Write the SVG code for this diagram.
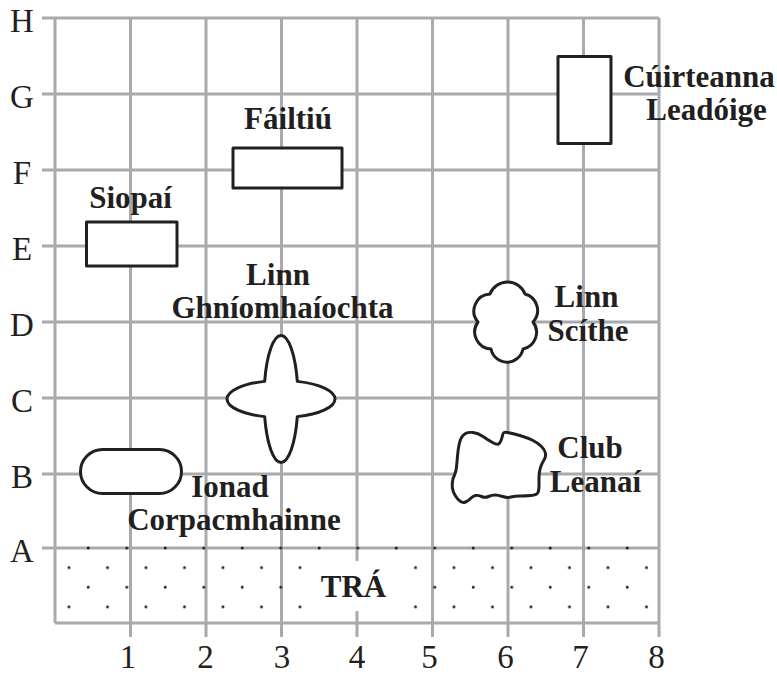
<svg xmlns="http://www.w3.org/2000/svg" width="777" height="675" viewBox="0 0 777 675">
<defs>
<style>
.grid{stroke:#a8aaad;stroke-width:3;fill:none}
.shape{fill:#fff;stroke:#231f20;stroke-width:3;stroke-linejoin:round}
.lbl{font-family:"Liberation Serif","Times New Roman",serif;font-weight:bold;font-size:31px;fill:#231f20;text-anchor:middle}
.axis{font-family:"Liberation Serif","Times New Roman",serif;font-size:33px;fill:#231f20;text-anchor:middle}
</style>
<pattern id="sand" patternUnits="userSpaceOnUse" x="59.375" y="538.2" width="38.5" height="39.2">
<circle cx="28.875" cy="9.8" r="1.5" fill="#231f20"/>
<circle cx="9.625" cy="29.4" r="1.5" fill="#231f20"/>
</pattern>
</defs>
<rect width="777" height="675" fill="#fff"/>
<g id="grid" class="grid">
<path d="M42 18H659M42 94H659M42 170H659M42 246H659M42 322H659M42 398H659M42 474H659M42 548H659M55 623H659"/>
<path d="M55 18V623M130.5 18V637M206 18V637M281.5 18V637M357 18V637M432.5 18V637M508 18V637M583.5 18V637M659 18V637"/>
</g>
<g id="beach">
<rect x="55" y="546" width="604" height="76" fill="url(#sand)"/>
<rect x="310" y="561" width="96" height="50" fill="#fff"/>
<text class="lbl" x="353.5" y="597">TRÁ</text>
</g>
<g id="axis-y" class="axis">
<text x="22" y="31.5">H</text>
<text x="22" y="107.5">G</text>
<text x="22" y="183.5">F</text>
<text x="22" y="259.5">E</text>
<text x="22" y="335.5">D</text>
<text x="22" y="411.5">C</text>
<text x="22" y="487.5">B</text>
<text x="22" y="561.5">A</text>
</g>
<g id="axis-x" class="axis">
<text x="128" y="668">1</text>
<text x="205.5" y="668">2</text>
<text x="282" y="668">3</text>
<text x="357" y="668">4</text>
<text x="429.5" y="668">5</text>
<text x="505.5" y="668">6</text>
<text x="580.5" y="668">7</text>
<text x="656.5" y="668">8</text>
</g>
<g id="siopai">
<rect class="shape" x="86.5" y="222" width="90.5" height="44"/>
<text class="lbl" x="130.5" y="208">Siopaí</text>
</g>
<g id="failtiu">
<rect class="shape" x="233" y="148" width="109" height="40"/>
<text class="lbl" x="288" y="129">Fáiltiú</text>
</g>
<g id="cuirteanna">
<rect class="shape" x="558" y="56.5" width="53" height="87"/>
<text class="lbl" x="699" y="87">Cúirteanna</text>
<text class="lbl" x="706.5" y="120">Leadóige</text>
</g>
<g id="linn-ghniomhaiochta">
<path class="shape" d="M297.33 381.37A17 63.5 0 0 0 264.67 381.37A54 18.5 0 0 0 264.67 416.63A17 63.5 0 0 0 297.33 416.63A54 18.5 0 0 0 297.33 381.37Z"/>
<text class="lbl" x="278" y="285">Linn</text>
<text class="lbl" x="282.5" y="318">Ghníomhaíochta</text>
</g>
<g id="linn-scithe">
<path class="shape" d="M490 294A18.75 18.75 0 0 1 525 294A17 17 0 0 1 533 322A17 17 0 0 1 523 349A16.3 16.3 0 0 1 491 349A17 17 0 0 1 478 322A17 17 0 0 1 490 294Z"/>
<text class="lbl" x="586.5" y="307">Linn</text>
<text class="lbl" x="588" y="341">Scíthe</text>
</g>
<g id="club-leanai">
<path class="shape" d="M459 445Q460 440 461.5 437.5Q463 435 465.5 433.5Q468 432 473 432.5Q478 433 483 436.5Q488 440 492.5 442.5Q497 445 498.5 444Q500 443 501 440.5Q502 438 502.5 435.5Q503 433 504 432.5Q505 432 510 433Q515 434 521.5 436Q528 438 533 440.5Q538 443 541.5 446.5Q545 450 545.5 453.5Q546 457 544 460Q542 463 540.5 467.5Q539 472 539 477Q539 482 539 486Q539 490 538 492.5Q537 495 531 495.5Q525 496 520 496Q515 496 511 497Q507 498 502.5 496.5Q498 495 495 495Q492 495 488.5 496.5Q485 498 481.5 496.5Q478 495 475.5 495.5Q473 496 470.5 498.5Q468 501 465.5 502Q463 503 460.5 501.5Q458 500 455.5 496Q453 492 452.5 488.5Q452 485 452.5 481.5Q453 478 454.5 475Q456 472 456.5 467Q457 462 457.5 456Q458 450 459 445Z"/>
<text class="lbl" x="590" y="458">Club</text>
<text class="lbl" x="595.5" y="491.5">Leanaí</text>
</g>
<g id="ionad-corpacmhainne">
<rect class="shape" x="80.5" y="449.5" width="101" height="44" rx="22" ry="22"/>
<text class="lbl" x="230" y="497">Ionad</text>
<text class="lbl" x="234" y="530">Corpacmhainne</text>
</g>
</svg>
